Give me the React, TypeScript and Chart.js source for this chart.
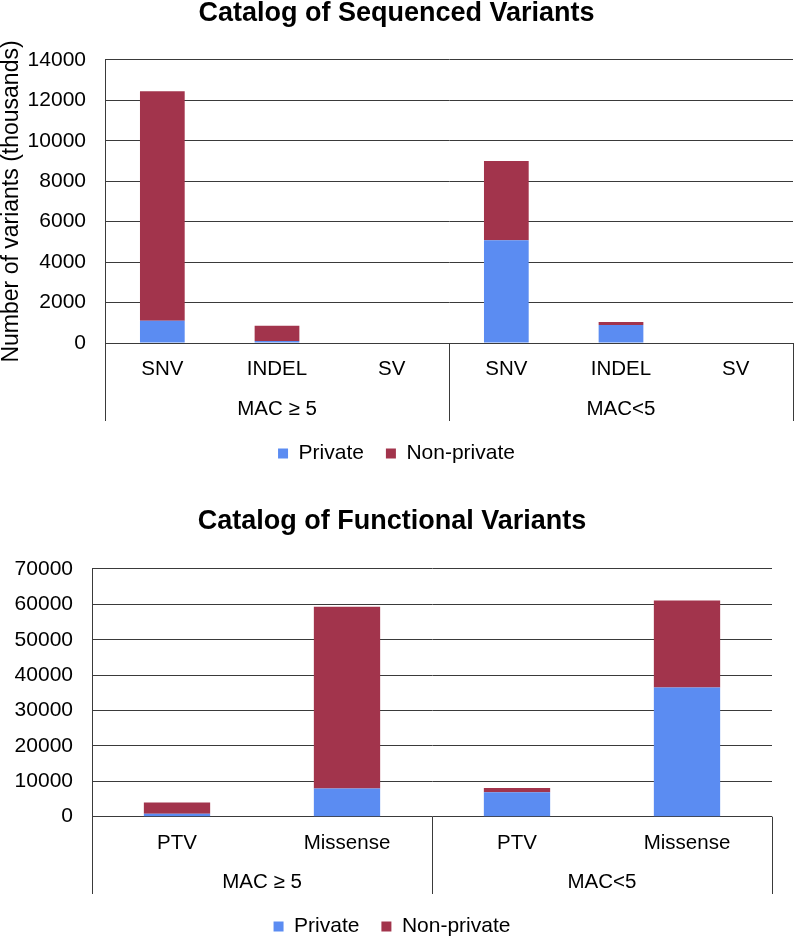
import React, { useEffect, useRef } from "react";
import { Chart, registerables } from "chart.js";

Chart.register(...registerables);

// ---------- Data ----------
const seqTitle = "Catalog of Sequenced Variants";
const seqCategories = ["SNV", "INDEL", "SV", "SNV", "INDEL", "SV"];
const seqGroups = ["MAC ≥ 5", "MAC<5"];
const seqPrivate = [1100, 100, 0, 5080, 890, 0];
const seqNonPrivate = [11350, 750, 0, 3920, 150, 0];
const seqYTitle = "Number of variants (thousands)";
const seqYMax = 14000;
const seqYStep = 2000;

const funcTitle = "Catalog of Functional Variants";
const funcCategories = ["PTV", "Missense", "PTV", "Missense"];
const funcGroups = ["MAC ≥ 5", "MAC<5"];
const funcPrivate = [800, 8000, 6900, 36500];
const funcNonPrivate = [3200, 51300, 1200, 24600];
const funcYMax = 70000;
const funcYStep = 10000;

const seriesNames = ["Private", "Non-private"];

// ---------- Styles ----------
const BLUE = "#5B8CF2";
const RED = "#A2344C";
const LINE = "#3a3a3a";
const FONT = "'Liberation Sans', Arial, sans-serif";

const groupLinesPlugin = {
  id: "groupLines",
  afterDraw(chart: any) {
    const { ctx, chartArea } = chart;
    const x = chart.scales.x;
    const x2 = chart.scales.x2;
    const n = x.getLabels().length;
    const g = x2.getLabels().length;
    const per = n / g;
    ctx.save();
    ctx.strokeStyle = LINE;
    ctx.lineWidth = 1;
    for (let k = 0; k <= g; k++) {
      const px = Math.round(x.getPixelForValue(k * per - 0.5)) + 0.5;
      ctx.beginPath();
      ctx.moveTo(px, chartArea.bottom);
      ctx.lineTo(px, x2.bottom);
      ctx.stroke();
    }
    ctx.restore();
  },
};

function buildConfig(p: {
  title: string;
  categories: string[];
  groups: string[];
  priv: number[];
  nonPriv: number[];
  yMax: number;
  yStep: number;
  yTitle?: string;
  yWidth: number;
  padding: any;
  titlePadTop: number;
  titlePadBottom: number;
  xHeight: number;
  x2Height: number;
  xPad: number;
  x2Pad: number;
}): any {
  return {
    type: "bar",
    data: {
      labels: p.categories,
      datasets: [
        {
          label: seriesNames[0],
          data: p.priv,
          backgroundColor: BLUE,
          borderWidth: 0,
          categoryPercentage: 1,
          barPercentage: 0.39,
        },
        {
          label: seriesNames[1],
          data: p.nonPriv,
          backgroundColor: RED,
          borderWidth: 0,
          categoryPercentage: 1,
          barPercentage: 0.39,
        },
      ],
    },
    options: {
      responsive: false,
      animation: false,
      layout: { padding: p.padding },
      plugins: {
        title: {
          display: true,
          text: p.title,
          color: "#000",
          font: { family: FONT, size: 27, weight: "bold", lineHeight: 0.85 },
          padding: { top: p.titlePadTop, bottom: p.titlePadBottom },
        },
        legend: {
          display: true,
          position: "bottom",
          labels: {
            boxWidth: 10,
            boxHeight: 10,
            padding: 22,
            color: "#000",
            font: { family: FONT, size: 21 },
          },
        },
        tooltip: { enabled: false },
      },
      scales: {
        x: {
          type: "category",
          stacked: true,
          offset: true,
          weight: 0,
          grid: { display: false },
          border: { display: false },
          ticks: {
            color: "#000",
            font: { family: FONT, size: 20.5 },
            padding: p.xPad,
            maxRotation: 0,
            autoSkip: false,
          },
          afterFit: (s: any) => {
            s.height = p.xHeight;
          },
        },
        x2: {
          type: "category",
          position: "bottom",
          labels: p.groups,
          offset: true,
          weight: 1,
          grid: { display: false },
          border: { display: false },
          ticks: {
            color: "#000",
            font: { family: FONT, size: 20.5 },
            padding: p.x2Pad,
            maxRotation: 0,
            autoSkip: false,
          },
          afterFit: (s: any) => {
            s.height = p.x2Height;
          },
        },
        y: {
          stacked: true,
          min: 0,
          max: p.yMax,
          grid: { color: LINE, lineWidth: 1, drawTicks: false },
          border: { display: true, color: LINE, width: 1 },
          ticks: {
            stepSize: p.yStep,
            color: "#000",
            font: { family: FONT, size: 21 },
            padding: 19,
            callback: (v: any) => String(v),
          },
          title: p.yTitle
            ? {
                display: true,
                text: p.yTitle,
                color: "#000",
                font: { family: FONT, size: 23, lineHeight: 1 },
                padding: 0,
              }
            : { display: false },
          afterFit: (s: any) => {
            s.width = p.yWidth;
          },
        },
      },
    },
    plugins: [groupLinesPlugin],
  };
}

function ChartCanvas({ config, width, height }: { config: any; width: number; height: number }) {
  const ref = useRef<HTMLCanvasElement | null>(null);
  useEffect(() => {
    if (!ref.current) return;
    const chart = new Chart(ref.current, config);
    return () => chart.destroy();
  }, [config]);
  return <canvas ref={ref} width={width} height={height} style={{ display: "block", width, height }} />;
}

const topConfig = buildConfig({
  title: seqTitle,
  categories: seqCategories,
  groups: seqGroups,
  priv: seqPrivate,
  nonPriv: seqNonPrivate,
  yMax: seqYMax,
  yStep: seqYStep,
  yTitle: seqYTitle,
  yWidth: 105,
  padding: { left: 0, right: 3, top: 0, bottom: -4 },
  titlePadTop: 2,
  titlePadBottom: 35,
  xHeight: 45,
  x2Height: 33,
  xPad: 6,
  x2Pad: 1,
});

const bottomConfig = buildConfig({
  title: funcTitle,
  categories: funcCategories,
  groups: funcGroups,
  priv: funcPrivate,
  nonPriv: funcNonPrivate,
  yMax: funcYMax,
  yStep: funcYStep,
  yWidth: 80,
  padding: { left: 12, right: 24, top: 0, bottom: -8 },
  titlePadTop: 40.5,
  titlePadBottom: 35.5,
  xHeight: 45,
  x2Height: 32.3,
  xPad: 6,
  x2Pad: 0,
});

export default function App() {
  return (
    <div style={{ position: "absolute", left: 0, top: 0, width: 796, height: 939, background: "#fff" }}>
      <ChartCanvas config={topConfig} width={796} height={470} />
      <ChartCanvas config={bottomConfig} width={796} height={469} />
    </div>
  );
}
